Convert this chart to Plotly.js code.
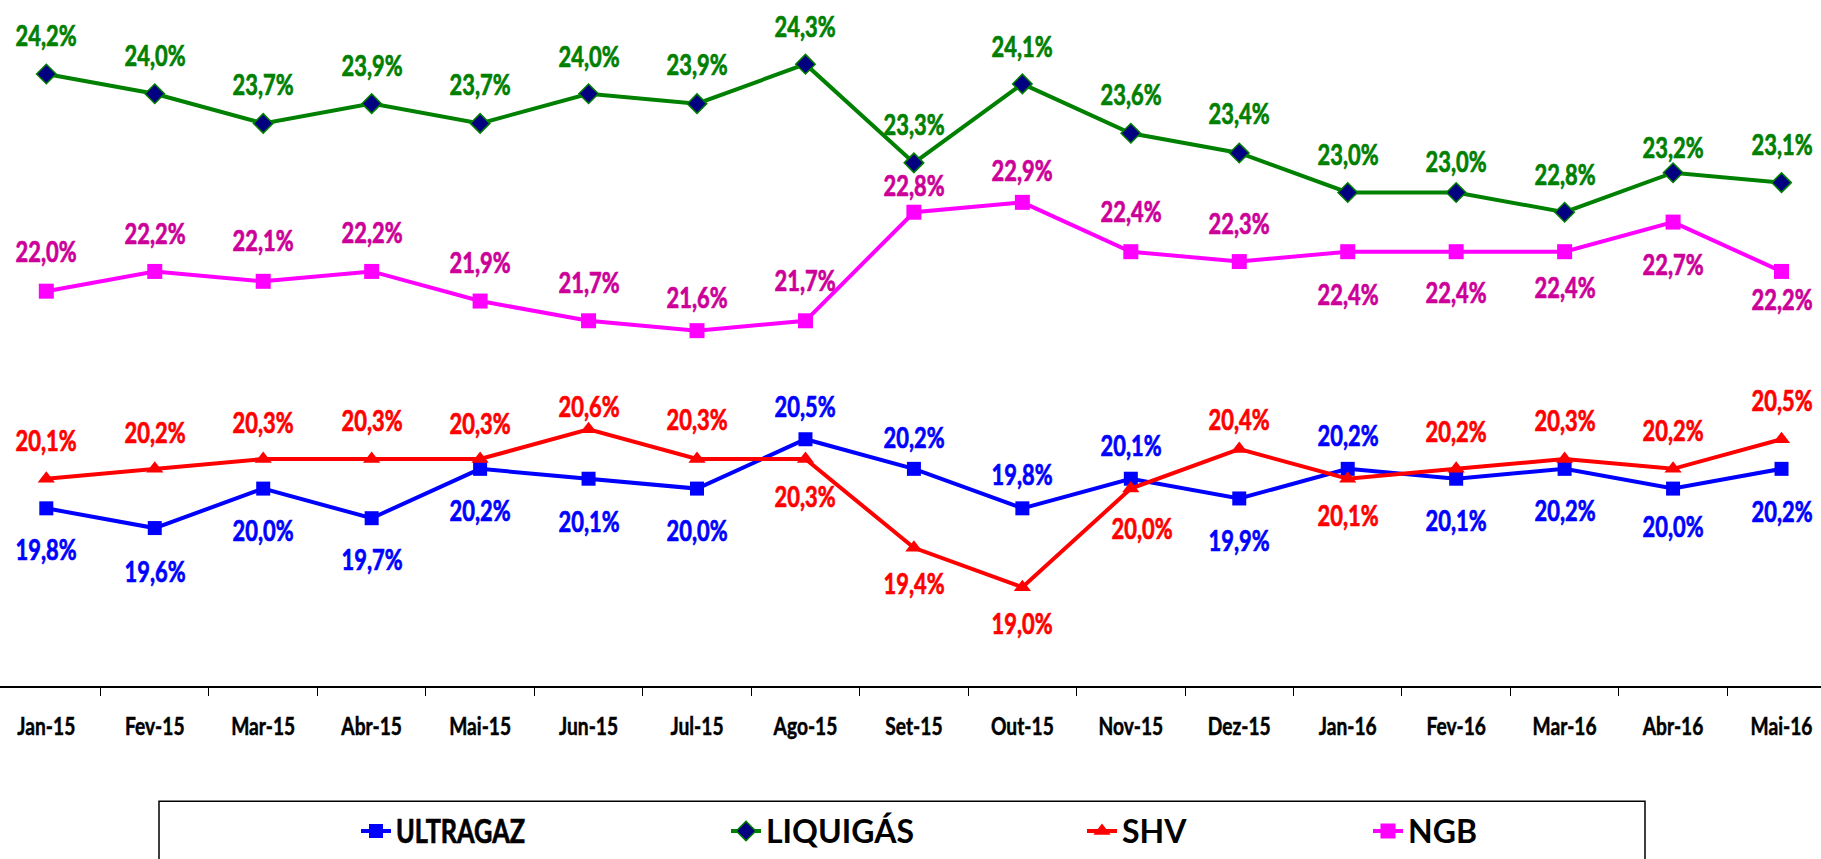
<!DOCTYPE html>
<html>
<head>
<meta charset="utf-8">
<script src="https://cdn.plot.ly/plotly-3.0.1.min.js"></script>
<style>html,body{margin:0;padding:0;background:#fff;}#chart{width:1821px;height:859px;}</style>
</head>
<body>
<div id="chart"></div>
<script>
// ---- data ----
var months = ["Jan-15","Fev-15","Mar-15","Abr-15","Mai-15","Jun-15","Jul-15","Ago-15","Set-15","Out-15","Nov-15","Dez-15","Jan-16","Fev-16","Mar-16","Abr-16","Mai-16"];
var seriesNames = ["ULTRAGAZ","LIQUIGÁS","SHV","NGB"];
var ultragaz = [19.8,19.6,20.0,19.7,20.2,20.1,20.0,20.5,20.2,19.8,20.1,19.9,20.2,20.1,20.2,20.0,20.2];
var liquigas = [24.2,24.0,23.7,23.9,23.7,24.0,23.9,24.3,23.3,24.1,23.6,23.4,23.0,23.0,22.8,23.2,23.1];
var shv      = [20.1,20.2,20.3,20.3,20.3,20.6,20.3,20.3,19.4,19.0,20.0,20.4,20.1,20.2,20.3,20.2,20.5];
var ngb      = [22.0,22.2,22.1,22.2,21.9,21.7,21.6,21.7,22.8,22.9,22.4,22.3,22.4,22.4,22.4,22.7,22.2];

// data-label placement: vertical pixel offset from the point (positive = above, negative = below)
var ultLabelDy = [-41,-43,-41,-41,-41,-42,-41, 33, 32, 34, 34,-42, 34,-41,-41,-37,-42];
var liqLabelDy = [ 39, 39, 39, 39, 39, 38, 40, 38, 39, 38, 39, 40, 38, 31, 38, 26, 39];
var shvLabelDy = [ 39, 37, 37, 39, 36, 23, 40,-37,-35,-36,-39, 30,-36, 38, 39, 39, 39];
var ngbLabelDy = [ 40, 38, 41, 39, 39, 39, 34, 41, 27, 32, 41, 39,-42,-40,-35,-42,-28];
var shvLabelDx = [  0,  0,  0,  0,  0,  0,  0,  0,  0,  0, 11,  0,  0,  0,  0,  0,  0];

// ---- styles ----
var FONT = "Lato, 'DejaVu Sans Condensed', sans-serif";
var styles = [
  {line:"#0000FF", marker:{symbol:"square", size:14, color:"#0000FF"}, label:"#0000FF", dy:ultLabelDy, dx:null, legend:"legend", lx:356},
  {line:"#008000", marker:{symbol:"diamond", size:15, color:"#000080", line:{color:"#008000", width:1.5}}, label:"#008000", dy:liqLabelDy, dx:null, legend:"legend2", lx:726},
  {line:"#FF0000", marker:{symbol:"triangle-up", size:15, color:"#FF0000"}, label:"#FF0000", dy:shvLabelDy, dx:shvLabelDx, legend:"legend3", lx:1082},
  {line:"#FF00FF", marker:{symbol:"square", size:15, color:"#FF00FF"}, label:"#CC0099", dy:ngbLabelDy, dx:null, legend:"legend4", lx:1368}
];
var allSeries = [ultragaz, liquigas, shv, ngb];

var W = 1821, H = 859, PLOT_H = 690;
var traces = [], annotations = [];
allSeries.forEach(function(vals, s){
  var st = styles[s];
  traces.push({
    type:"scatter", mode:"lines+markers", name:seriesNames[s],
    x:months, y:vals, legend:st.legend, cliponaxis:false,
    line:{color:st.line, width:4},
    marker:st.marker, hoverinfo:"skip"
  });
  vals.forEach(function(v, i){
    annotations.push({
      x:months[i], y:v, xref:"x", yref:"y", showarrow:false,
      text:v.toFixed(1).replace(".", ",") + "%",
      yshift: st.dy[i], xshift: st.dx ? st.dx[i] : 0,
      font:{family:FONT, size:28, color:st.label, weight:"bold"}
    });
  });
});

var legendY = (PLOT_H - 836) / PLOT_H;
function mkLegend(px){
  return {orientation:"h", x:px / W, xanchor:"left", y:legendY, yanchor:"middle",
          bgcolor:"rgba(0,0,0,0)", borderwidth:0,
          font:{family:FONT, size:32, color:"#000", weight:"bold"}};
}

var layout = {
  width:W, height:H,
  margin:{l:0, r:0, t:0, b:H - PLOT_H, pad:0},
  paper_bgcolor:"#fff", plot_bgcolor:"#fff",
  showlegend:true,
  xaxis:{type:"category", range:[-0.427, 16.364], showgrid:false, zeroline:false,
         showline:true, linecolor:"#000", linewidth:2,
         ticks:"outside", tickson:"boundaries", ticklen:8, tickcolor:"#000", tickwidth:1,
         ticklabelstandoff:18,
         tickfont:{family:FONT, size:24, color:"#000", weight:"bold"}},
  yaxis:{range:[18, 24.95], visible:false, showgrid:false, zeroline:false},
  legend:mkLegend(styles[0].lx),
  legend2:mkLegend(styles[1].lx),
  legend3:mkLegend(styles[2].lx),
  legend4:mkLegend(styles[3].lx),
  annotations:annotations,
  shapes:[{type:"rect", xref:"paper", yref:"paper",
           x0:159 / W, x1:1645 / W, y0:(PLOT_H - 880) / PLOT_H, y1:(PLOT_H - 806) / PLOT_H,
           line:{color:"#000", width:1.5}, fillcolor:"rgba(0,0,0,0)"}]
};

// horizontal narrowing + slight emboldening, to imitate the condensed heavy font of the original
var textLook = [
  {sel:".annotation-text", condense:0.78, stroke:0.7},
  {sel:".xtick text", condense:0.80, stroke:0.5},
  {sel:".legendtext", condense:0.79, stroke:0.7}
];

Plotly.newPlot("chart", traces, layout, {displayModeBar:false, staticPlot:true}).then(function(gd){
  textLook.forEach(function(tl){
    gd.querySelectorAll(tl.sel).forEach(function(t){
      var len = t.getComputedTextLength();
      if (len > 0) {
        t.setAttribute("textLength", (len * tl.condense).toFixed(2));
        t.setAttribute("lengthAdjust", "spacingAndGlyphs");
      }
      var fill = t.style.fill || window.getComputedStyle(t).fill;
      t.style.stroke = fill;
      t.style.strokeWidth = tl.stroke + "px";
    });
  });
});
</script>
</body>
</html>
